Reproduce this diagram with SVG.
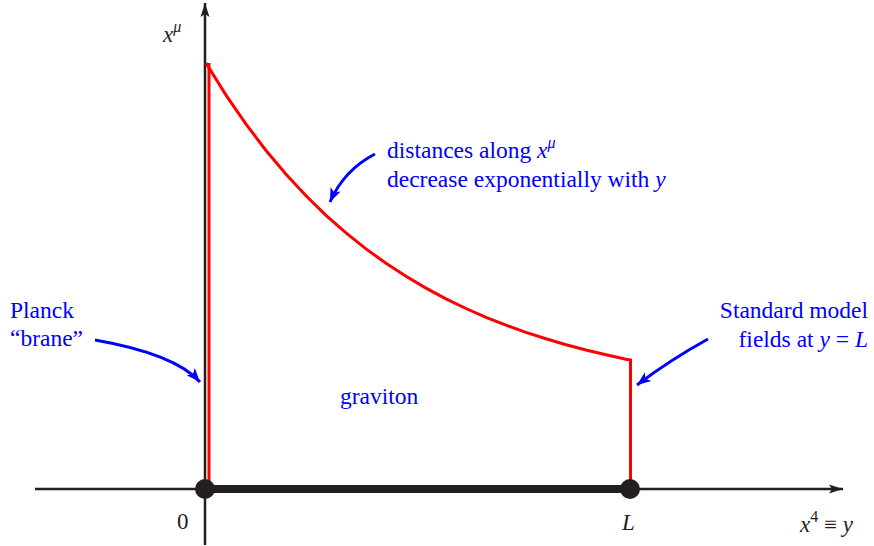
<svg xmlns="http://www.w3.org/2000/svg" width="874" height="546" viewBox="0 0 874 546">
<style>
.axis{stroke:#231f20;stroke-width:2.5;fill:none}
.red{stroke:#ff0000;stroke-width:3;fill:none;stroke-linejoin:miter}
.blue{stroke:#0000ff;stroke-width:3;fill:none}
text{font-family:'Liberation Serif','DejaVu Serif',serif}
.lbl{font-size:23.5px;fill:#0000ff}
.math{font-size:23px;fill:#231f20}
.it{font-style:italic}
</style>
<defs>
<marker id="ak" markerUnits="userSpaceOnUse" markerWidth="16" markerHeight="12" refX="14" refY="6" orient="auto">
<path d="M0,1.5 L14,6 L0,10.5 L3,6 z" fill="#231f20"/>
</marker>
<marker id="ab" markerUnits="userSpaceOnUse" markerWidth="16" markerHeight="14" refX="14" refY="7" orient="auto">
<path d="M0,1.5 L14,7 L0,12.5 L3.5,7 z" fill="#0000ff"/>
</marker>
</defs>
<g id="axes">
<line class="axis" x1="205" y1="545" x2="205" y2="3" marker-end="url(#ak)"/>
<line class="axis" x1="35" y1="489" x2="843" y2="489" marker-end="url(#ak)"/>
</g>
<g id="bulk">
<polyline class="red" points="209,489 209,63"/>
<polyline class="red" points="206,63 226,95.1 246,124.2 266,150.5 286,174.3 306,195.8 326,215.3 346,232.9 366,248.9 386,263.3 406,276.3 426,288.1 446,298.8 466,308.5 486,317.3 506,325.2 526,332.4 546,338.8 566,344.7 586,350 606,354.8 626,359.2 630.5,360 630.5,489"/>
<line x1="205" y1="489" x2="630" y2="489" stroke="#231f20" stroke-width="8"/>
</g>
<g id="brane0">
<circle cx="205" cy="489" r="10" fill="#231f20"/>
<text class="math" x="177" y="529" font-family="Liberation Serif, serif">0</text>
</g>
<g id="braneL">
<circle cx="630" cy="489" r="10" fill="#231f20"/>
<text class="math it" x="622" y="530" font-family="Liberation Serif, serif">L</text>
</g>
<g id="ylabel">
<text class="math" x="163" y="42" font-family="Liberation Serif, serif"><tspan class="it">x</tspan><tspan class="it" font-size="16" dy="-10">μ</tspan></text>
</g>
<g id="xlabel">
<text class="math" x="800" y="532" font-family="Liberation Serif, serif"><tspan class="it">x</tspan><tspan font-size="16" dy="-10">4</tspan><tspan dy="10"> ≡ </tspan><tspan class="it">y</tspan></text>
</g>
<g id="planck">
<text class="lbl" x="10" y="318" font-family="Liberation Serif, serif">Planck</text>
<text class="lbl" x="10" y="346" font-family="Liberation Serif, serif">“brane”</text>
</g>
<g id="distances">
<text class="lbl" x="387" y="158" font-family="Liberation Serif, serif">distances along <tspan class="it">x</tspan><tspan class="it" font-size="16" dy="-10">μ</tspan></text>
<text class="lbl" x="387" y="187" font-family="Liberation Serif, serif">decrease exponentially with <tspan class="it">y</tspan></text>
</g>
<g id="standard">
<text class="lbl" x="868" y="318" text-anchor="end" font-family="Liberation Serif, serif">Standard model</text>
<text class="lbl" x="868" y="347" text-anchor="end" font-family="Liberation Serif, serif">fields at <tspan class="it">y</tspan> = <tspan class="it">L</tspan></text>
</g>
<g id="graviton">
<text class="lbl" x="340" y="404" font-family="Liberation Serif, serif">graviton</text>
</g>
<g id="connectors">
<path class="blue" d="M95,340 Q175,354 200,382" marker-end="url(#ab)"/>
<path class="blue" d="M375,154 Q344,170 330,202" marker-end="url(#ab)"/>
<path class="blue" d="M708,339 Q670,360 637,385" marker-end="url(#ab)"/>
</g>
</svg>
